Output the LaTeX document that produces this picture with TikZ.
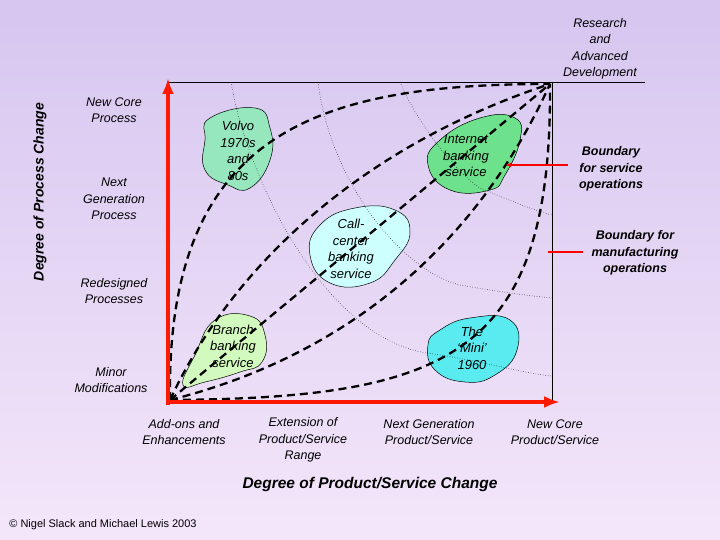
\documentclass[tikz,border=0pt]{standalone}
\usepackage{fontspec}
\setmainfont{Liberation Sans}
\usetikzlibrary{arrows.meta}
\begin{document}
\begin{tikzpicture}[x=1pt,y=-1pt,
 lab/.style={font=\itshape\fontsize{12.5}{16.5}\selectfont,align=center,inner sep=0},
 blab/.style={font=\itshape\fontsize{13}{16.5}\selectfont,align=center,inner sep=0},
 dsh/.style={line width=2.3pt,dash pattern=on 8pt off 5pt},
 dot/.style={line width=0.5pt,dotted},
 blob/.style={draw=black,line width=0.5pt}]
\shade[top color={rgb,255:red,214;green,198;blue,240},bottom color={rgb,255:red,244;green,230;blue,250}] (0,0) rectangle (720,540);
\useasboundingbox (0,0) rectangle (720,540);
% frame
\draw[line width=0.6pt] (168,82) -- (552,82) -- (552,402);
% blobs
\fill[blob,fill={rgb,255:red,150;green,230;blue,190}] plot[smooth cycle,tension=0.8] coordinates {(210,118)(255,108)(270,128)(270,160)(250,188)(228,185)(205,170)(205,140)};
\fill[blob,fill={rgb,255:red,110;green,225;blue,140}] plot[smooth cycle,tension=0.8] coordinates {(440,140)(480,118)(515,118)(520,140)(505,175)(490,190)(450,190)(428,165)};
\fill[blob,fill={rgb,255:red,205;green,255;blue,255}] plot[smooth cycle,tension=0.8] coordinates {(320,225)(355,208)(395,210)(410,232)(395,260)(370,283)(330,283)(310,255)};
\fill[blob,fill={rgb,255:red,210;green,250;blue,190}] plot[smooth cycle,tension=0.8] coordinates {(215,320)(250,316)(265,335)(262,362)(240,372)(205,382)(183,385)(195,355)};
\fill[blob,fill={rgb,255:red,90;green,235;blue,240}] plot[smooth cycle,tension=0.8] coordinates {(440,330)(470,318)(510,320)(517,350)(495,375)(465,382)(435,370)(428,345)};
% dotted arcs
\draw[dot] (231,82) .. controls (245,170) and (320,335) .. (426,353) .. controls (480,360) and (520,373) .. (552,376);
\draw[dot] (318,82) .. controls (330,180) and (400,270) .. (460,285) .. controls (500,292) and (530,296) .. (552,298);
\draw[dot] (400,82) .. controls (420,130) and (470,190) .. (490,192) .. controls (520,205) and (540,212) .. (552,215);
% dashed curves
\coordinate (O) at (170,400); \coordinate (T) at (550,84);
\draw[dsh] (O) -- (T);
\draw[dsh] (O) .. controls (166,130) and (320,84) .. (T);
\draw[dsh] (O) .. controls (450,398) and (552,355) .. (T);
\draw[dsh] (O) .. controls (240,250) and (380,140) .. (T);
\draw[dsh] (O) .. controls (330,360) and (470,260) .. (T);
% blob labels
\node[blab] (volvo) at (238,151) {Volvo\\1970s\\and\\80s};
\node[blab] (inet) at (466,156) {Internet\\banking\\service};
\node[blab] (call) at (351,249) {Call-\\center\\banking\\service};
\node[blab] (branch) at (233,346) {Branch\\banking\\service};
\node[blab] (mini) at (472,348) {The\\‘Mini’\\1960};
% axes
\coordinate (ay) at (168,78); \coordinate (ax) at (560,402);
\draw[line width=3.5pt,red!80!orange,-{Latex[length=16pt,width=12pt]}] (168,405) -- (ay);
\draw[line width=3.5pt,red!80!orange,-{Latex[length=16pt,width=12pt]}] (166,402) -- (ax);
% red pointers
\coordinate (p1) at (568,165); \coordinate (p1t) at (505,165);
\draw[red,line width=1.2pt,-{Latex[length=6pt]}] (p1) -- (p1t);
\coordinate (p2) at (583,252); \coordinate (p2t) at (548,252);
\draw[red,line width=1.8pt] (p2) -- (p2t);
% labels
\node[lab] (rad) at (600,49) {Research\\and\\Advanced\\Development};
\draw[line width=0.6pt] (552,82) -- (645,82);
\node[lab,font=\bfseries\itshape\fontsize{12.5}{16.5}\selectfont] (bso) at (611,169) {Boundary\\for service\\operations};
\node[lab,font=\bfseries\itshape\fontsize{12.5}{16.5}\selectfont] (bmo) at (635,253) {Boundary for\\manufacturing\\operations};
\node[lab] (nc) at (114,110) {New Core\\Process};
\node[lab] (ng) at (114,199) {Next\\Generation\\Process};
\node[lab] (rp) at (114,291) {Redesigned\\Processes};
\node[lab] (mm) at (111,380) {Minor\\Modifications};
\node[lab] (ae) at (184,432) {Add-ons and\\Enhancements};
\node[lab] (ep) at (303,440) {Extension of\\Product/Service\\Range};
\node[lab] (ngp) at (429,432) {Next Generation\\Product/Service};
\node[lab] (ncp) at (555,432) {New Core\\Product/Service};
\node[font=\bfseries\itshape\fontsize{15.5}{18}\selectfont,inner sep=0] (xt) at (370,484) {Degree of Product/Service Change};
\node[font=\bfseries\itshape\fontsize{14}{16}\selectfont,inner sep=0,rotate=90] (yt) at (40,192) {Degree of Process Change};
\node[font=\fontsize{11}{13}\selectfont,inner sep=0] (cp) at (103,525) {© Nigel Slack and Michael Lewis 2003};
\end{tikzpicture}
\end{document}
